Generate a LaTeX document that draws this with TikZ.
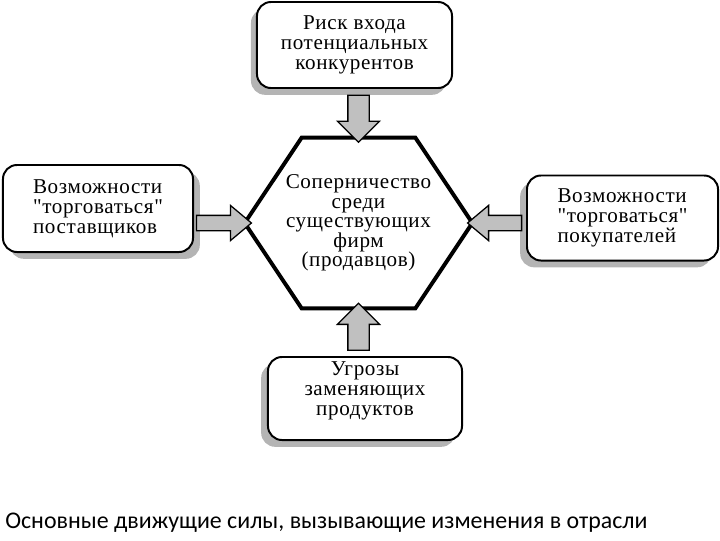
\documentclass[tikz,border=0pt]{standalone}
\usepackage{fontspec}
\usepackage{tikz}
\usetikzlibrary{shapes.arrows, shadows, calc}
\setmainfont{Liberation Serif}[LetterSpace=3, Ligatures=TeXOff]
\newfontfamily\capfont{Carlito}
\definecolor{ArrowGray}{HTML}{C0C0C0}
\definecolor{ShadowGray}{HTML}{B4B4B4}

\begin{document}
\begin{tikzpicture}[
    x=0.025cm, y=-0.025cm,
    box/.style={
        draw=black, fill=white, line width=1.4pt,
        rounded corners=0.35cm, inner sep=0pt,
        font=\fontsize{15}{14.2}\selectfont
    },
    boxshadow/.style={drop shadow={shadow xshift=#1, shadow yshift=-0.17cm,
        fill=ShadowGray, opacity=1}},
    bigarrow/.style n args={3}{
        single arrow, draw=black, fill=ArrowGray, line width=0.9pt,
        minimum width=0pt, minimum height=#1, inner sep=#2,
        single arrow head extend=#3
    }
]
\useasboundingbox (0,0) rectangle (720,540);

% the five forces
\node[box, boxshadow=-0.15cm, minimum width=4.875cm, minimum height=2.15cm, align=center]
    (entry) at (354.5,45) {Риск входа\\потенциальных\\конкурентов};
\node[box, boxshadow=0.17cm, minimum width=4.75cm, minimum height=2.175cm, align=left]
    (suppliers) at (98,208.5) {Возможности\\"торговаться"\\поставщиков};
\node[box, boxshadow=-0.17cm, minimum width=4.775cm, minimum height=2.125cm, align=left]
    (buyers) at (622.5,218) {Возможности\\"торговаться"\\покупателей};
\node[box, boxshadow=-0.17cm, minimum width=4.85cm, minimum height=2.075cm, align=center]
    (substitutes) at (365,398.5) {Угрозы\\заменяющих\\продуктов\\ };

% rivalry in the middle
\node[minimum width=5.675cm, minimum height=4.25cm, inner sep=0pt, align=center,
    font=\fontsize{15}{13.9}\selectfont] (rivalry) at (358.5,223)
    {Соперничество\\среди\\существующих\\фирм\\(продавцов)};
\draw[line width=2.8pt] (rivalry.west)
    -- ($(rivalry.north west)!0.25!(rivalry.north east)$)
    -- ($(rivalry.north west)!0.75!(rivalry.north east)$)
    -- (rivalry.east)
    -- ($(rivalry.south west)!0.75!(rivalry.south east)$)
    -- ($(rivalry.south west)!0.25!(rivalry.south east)$)
    -- cycle;

% block arrows
\path (rivalry.north |- entry.south) -- node[bigarrow={1.175cm}{0.25cm}{0.26cm}, rotate=-90] (a1) {} (rivalry.north);
\path (rivalry.south |- substitutes.north) -- node[bigarrow={1.175cm}{0.25cm}{0.26cm}, rotate=90] (a2) {} (rivalry.south);
\path (rivalry.west -| suppliers.east) -- node[bigarrow={1.375cm}{0.175cm}{0.25cm}, single arrow tip angle=80] (a3) {} (rivalry.west);
\path (rivalry.east -| buyers.west) -- node[bigarrow={1.35cm}{0.175cm}{0.25cm}, single arrow tip angle=80, rotate=180] (a4) {} (rivalry.east);

\node[anchor=west, inner sep=0pt, font=\capfont\fontsize{17}{20}\selectfont]
    (caption) at (5,523) {Основные движущие силы, вызывающие изменения в отрасли};
\end{tikzpicture}
\end{document}
